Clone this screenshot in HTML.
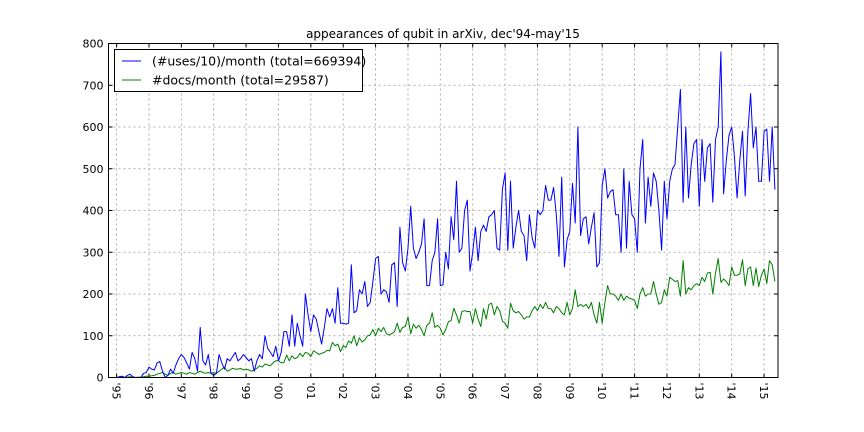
<!DOCTYPE html>
<html><head><meta charset="utf-8"><style>
html,body{margin:0;padding:0;background:#fff;}
svg{display:block;font-family:"DejaVu Sans","Liberation Sans",sans-serif;}
</style></head><body>
<svg id="chart" width="864" height="432" viewBox="0 0 864 432" xmlns="http://www.w3.org/2000/svg">
<rect width="864" height="432" fill="#fff"/>
<text x="443" y="38" font-size="12" text-anchor="middle">appearances of qubit in arXiv, dec'94-may'15</text>
<g id="grid"></g>
<g id="series"></g>
<rect x="108.5" y="43.5" width="669.5" height="334" fill="none" stroke="#000" stroke-width="1"/>
<g id="axes"></g>
<g>
<rect x="114.5" y="49.5" width="248" height="42" fill="#fff" stroke="#000"/>
<line x1="122" y1="61" x2="141" y2="61" stroke="#0000ff"/>
<text x="152" y="65.5" font-size="12.5">(#uses/10)/month (total=669394)</text>
<line x1="122" y1="80" x2="141" y2="80" stroke="#008000"/>
<text x="152" y="84.5" font-size="12.5">#docs/month (total=29587)</text>
</g>
</svg>
<script>
const startYear = 1994, startMonth = 11; // dec'94
const yTicks = [0,100,200,300,400,500,600,700,800];
const xTickLabels = ["'95","'96","'97","'98","'99","'00","'01","'02","'03","'04","'05","'06","'07","'08","'09","'10","'11","'12","'13","'14","'15"];
const usesPerMonth = [0,
0,2,3,0,5,8,2,0,0,0,10,12,
25,20,18,35,38,15,0,5,20,10,30,45,
55,48,35,20,60,45,15,120,40,30,55,10,
5,10,55,35,20,45,40,50,60,40,45,55,
48,40,45,15,40,55,45,100,70,60,50,75,
40,60,110,110,75,150,75,130,100,75,200,150,
110,150,140,110,80,120,165,145,165,130,215,130,
130,128,130,270,155,160,210,200,230,170,180,230,
285,290,200,210,205,180,270,275,170,360,275,255,
310,410,310,285,300,320,380,220,220,280,300,380,
220,222,300,260,385,330,470,300,310,400,425,255,
300,360,280,350,365,350,385,390,400,310,305,450,
490,305,470,310,360,400,350,340,280,390,335,310,
400,390,400,460,425,425,455,390,290,480,265,330,
350,465,370,600,340,380,385,320,360,395,265,275,
460,500,430,445,450,390,390,300,500,310,470,390,
380,300,500,570,370,480,410,490,470,400,305,470,
380,470,500,510,600,690,420,600,430,510,560,570,
410,570,470,550,560,420,570,600,780,440,520,580,
600,530,430,520,590,435,590,680,550,600,470,470,
590,595,470,600,450];
const docsPerMonth = [0,
0,0,1,0,1,2,1,0,1,1,2,3,
3,4,5,8,10,12,8,5,10,12,8,10,
12,10,8,12,10,8,12,15,12,10,12,10,
12,10,15,20,25,15,18,22,20,20,22,18,
20,18,15,18,22,28,25,32,30,28,35,40,
40,35,36,54,40,52,45,48,58,50,60,58,
50,64,60,55,58,60,65,64,84,76,80,62,
76,72,88,82,100,76,95,85,90,100,102,115,
100,118,110,120,105,102,105,110,130,108,120,122,
145,105,128,118,125,115,100,125,130,155,120,125,
118,102,115,134,136,166,150,130,158,160,158,158,
130,165,140,122,165,140,175,178,150,170,160,135,
130,118,178,160,155,158,150,140,145,145,160,170,
160,175,165,180,165,165,155,170,165,155,150,180,
150,165,210,170,175,170,175,165,180,150,130,180,
130,180,220,200,200,195,185,200,185,195,190,188,
185,165,200,215,195,200,200,230,200,175,180,210,
195,240,235,230,232,195,280,200,215,210,220,225,
220,240,230,250,252,200,250,285,228,236,230,220,
265,245,245,248,282,220,260,265,220,262,218,245,
260,225,280,270,230];

const NS = "http://www.w3.org/2000/svg";
const L=108.5, R=778, T=43.5, B=377.5;
const tMin=1994.75, tMax=2015.43;
function xScale(t){ return L + (t - tMin)/(tMax - tMin)*(R - L); }
function yScale(v){ return B - v/800*(B - T); }
function mk(tag, attrs, parent){ const e=document.createElementNS(NS,tag); for(const k in attrs) e.setAttribute(k,attrs[k]); parent.appendChild(e); return e; }
const grid=document.getElementById('grid'), axes=document.getElementById('axes'), series=document.getElementById('series');

yTicks.forEach(v=>{
  const y=yScale(v);
  if(v>0 && v<800){
    const g=mk('line',{x1:L,x2:R,y1:y,y2:y,stroke:'#999','stroke-dasharray':'2,3','stroke-width':0.8},grid);
    
    
  }
  mk('line',{x1:L,x2:L+4,y1:y,y2:y,stroke:'#000'},axes);
  mk('line',{x1:R-4,x2:R,y1:y,y2:y,stroke:'#000'},axes);
  const t=mk('text',{x:L-5,y:y+4,'font-size':11,'text-anchor':'end'},axes);
  t.textContent=v;
  
  
});
xTickLabels.forEach((lab,i)=>{
  const x=xScale(1995+i);
  const g=mk('line',{x1:x,x2:x,y1:T,y2:B,stroke:'#999','stroke-dasharray':'2,3','stroke-width':0.8},grid);
  
  
  mk('line',{x1:x,x2:x,y1:B-4,y2:B,stroke:'#000'},axes);
  mk('line',{x1:x,x2:x,y1:T,y2:T+4,stroke:'#000'},axes);
  const t=mk('text',{x:0,y:0,'font-size':11,transform:`translate(${x-4},${B+5}) rotate(90)`},axes);
  t.textContent=lab;
  
  
});
function draw(arr,color,name){
  const pts=arr.map((v,i)=>{const t=startYear+(startMonth+i)/12; return xScale(t).toFixed(1)+','+yScale(v).toFixed(1);}).join(' ');
  const p=mk('polyline',{points:pts,fill:'none',stroke:color,'stroke-width':1,'stroke-linejoin':'round'},series);
  
  
}
draw(docsPerMonth,'#008000','docs-per-month-line');
draw(usesPerMonth,'#0000ff','uses-per-month-line');
</script>
</body></html>
